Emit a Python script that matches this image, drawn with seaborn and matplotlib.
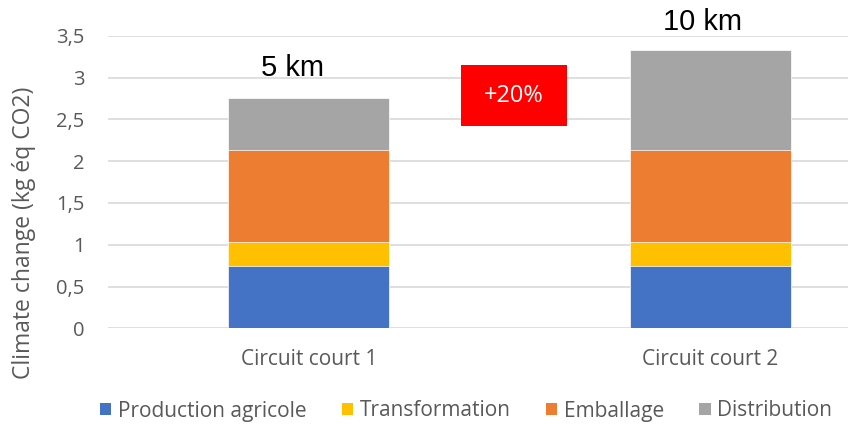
import matplotlib
matplotlib.use("Agg")
import matplotlib.pyplot as plt
from matplotlib.patches import Patch, Rectangle
import seaborn as sns
import pandas as pd

circuits = ["Circuit court 1", "Circuit court 2"]
steps = ["Production agricole", "Transformation", "Emballage", "Distribution"]
production = [0.74, 0.74]
transformation = [0.29, 0.29]
emballage = [1.10, 1.10]
distribution = [0.63, 1.20]
distances = ["5 km", "10 km"]
increase_label = "+20%"
colors = ["#4472C4", "#FFC000", "#ED7D31", "#A5A5A5"]
yticks = [0, 0.5, 1, 1.5, 2, 2.5, 3, 3.5]

sns.set_theme(style="white")
plt.rcParams["font.family"] = ["Open Sans", "DejaVu Sans"]

df = pd.DataFrame({
    "circuit": circuits,
    steps[0]: production,
    steps[1]: transformation,
    steps[2]: emballage,
    steps[3]: distribution,
})
# cumulated heights, drawn from top layer down so each layer covers the one above
cum = df[steps].cumsum(axis=1)
cum["circuit"] = df["circuit"]

fig = plt.figure(figsize=(8.48, 4.25), dpi=100)
ax = fig.add_axes([108 / 848, 1 - 328.3 / 425, 740 / 848, 292.6 / 425])

for step, col in reversed(list(zip(steps, colors))):
    sns.barplot(data=cum, x="circuit", y=step, color=col, width=0.4,
                saturation=1, edgecolor="white", linewidth=0.5, ax=ax, zorder=3)

ax.set_ylim(0, 3.5)
ax.set_xlim(-0.5, -0.5 + 740 / 401.5)
ax.set_yticks(yticks)
ax.set_yticklabels([f"{t:g}".replace(".", ",") for t in yticks])
ax.grid(axis="y", color="#D9D9D9", linewidth=1.2, zorder=0)
ax.set_axisbelow(True)
for s in ax.spines.values():
    s.set_visible(False)
ax.tick_params(axis="y", length=0, pad=17, labelsize=14.5, labelcolor="#595959")
ax.tick_params(axis="x", length=0, pad=15, labelsize=15, labelcolor="#595959")
ax.set_xlabel("")
ax.set_ylabel("Climate change (kg éq CO2)", fontsize=16.5, color="#595959")
ax.yaxis.set_label_coords(-0.097, 0.326)

# distance labels above the bars
ax.text(-0.04, 3.02, distances[0], ha="center", va="baseline", fontsize=21,
        family="Liberation Sans", color="black")
ax.text(0.98, 3.57, distances[1], ha="center", va="baseline", fontsize=21,
        family="Liberation Sans", color="black", clip_on=False)

# red increase box
ax.add_patch(Rectangle((0.379, 2.42), 0.264, 0.73, facecolor="#FF0000",
                       edgecolor="none", zorder=4))
ax.text(0.511, 2.78, increase_label, ha="center", va="center", fontsize=17,
        color="white", zorder=5)

handles = [Patch(facecolor=c, edgecolor="none") for c in colors]
fig.legend(handles, steps, loc="center", bbox_to_anchor=(466 / 848, 1 - 411 / 425),
           ncol=4, frameon=False, fontsize=15, labelcolor="#595959",
           handlelength=0.55, handleheight=0.55, handletextpad=0.3, columnspacing=1.7)

fig.savefig("out.png", dpi=100)
